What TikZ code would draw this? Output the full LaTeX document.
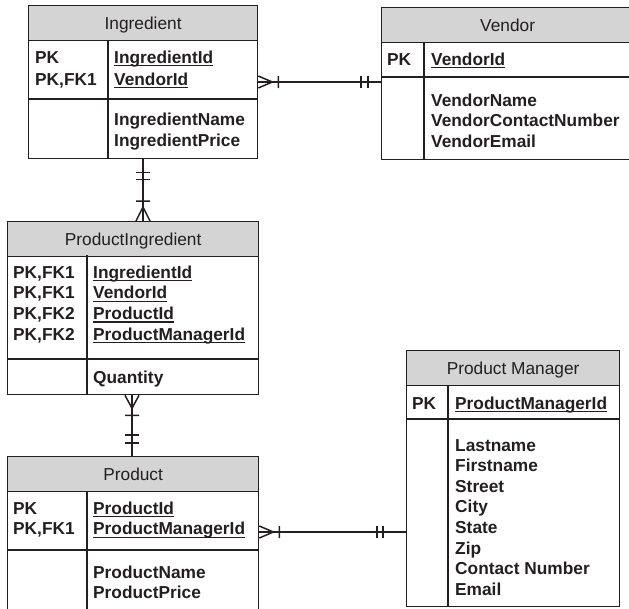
\documentclass[tikz,border=0pt]{standalone}
\usepackage{fontspec}
\setmainfont{Liberation Sans}
\definecolor{ink}{RGB}{35,31,32}
\definecolor{headfill}{RGB}{212,212,212}

% underlined key attribute with a fixed rule position
\newsavebox\keybox
\newcommand\keyname[1]{\sbox\keybox{#1}\rlap{\rule[-3.3pt]{\wd\keybox}{1.3pt}}\usebox\keybox}

\tikzset{
  tablebox/.style={draw=ink, line width=1.3pt, rectangle, inner sep=0pt, anchor=north west},
  headbox/.style={draw=ink, fill=headfill, line width=1.3pt, rectangle, inner sep=0pt,
    anchor=north west, minimum height=35pt, text height=12.4pt, text depth=0pt, text=ink,
    font=\fontsize{17.3}{20.7}\selectfont},
  fieldtext/.style={inner sep=0pt, anchor=base west, text=ink,
    font=\fontsize{17.3}{20.7}\selectfont\bfseries},
  divider/.style={draw=ink, line width=1.3pt},
  rel/.style={draw=ink, line width=1.5pt},
}

% one column of field lines: prefix, x, first baseline, line step, entries
\newcommand\fieldcol[5]{%
  \foreach \txt [count=\n] in {#5} {\node[fieldtext] (#1\n) at (#2,{#3+(\n-1)*#4}) {\txt};}}

\begin{document}
\begin{tikzpicture}[x=1pt, y=-1pt]
\useasboundingbox (0,0) rectangle (629,608);
\clip (0,0) rectangle (629,608);

% ---------- Ingredient ----------
\node[tablebox, minimum width=229pt, minimum height=153pt] (ing) at (28,5) {};
\node[headbox, minimum width=229pt] (ing-h) at (ing.north west) {Ingredient};
\draw[divider] (108,40) -- (108,158);
\draw[divider] (ing.west |- 0,99) -- (ing.east |- 0,99);
\fieldcol{ing-k}{35}{63}{22}{PK,{PK,FK1}}
\fieldcol{ing-f}{114}{63}{22}{{\keyname{IngredientId}},{\keyname{VendorId}}}
\fieldcol{ing-a}{114}{125}{21}{IngredientName,IngredientPrice}

% ---------- Vendor ----------
\node[tablebox, minimum width=252pt, minimum height=152pt] (ven) at (381,7) {};
\node[headbox, minimum width=252pt] (ven-h) at (ven.north west) {Vendor};
\draw[divider] (424,42) -- (424,159);
\draw[divider] (ven.west |- 0,77) -- (ven.east |- 0,77);
\fieldcol{ven-k}{387}{65}{21}{PK}
\fieldcol{ven-f}{431}{65}{21}{{\keyname{VendorId}}}
\fieldcol{ven-a}{431}{106}{20.9}{VendorName,VendorContactNumber,VendorEmail}

% ---------- ProductIngredient ----------
\node[tablebox, minimum width=251pt, minimum height=173pt] (pi) at (7,221) {};
\node[headbox, minimum width=251pt] (pi-h) at (pi.north west) {ProductIngredient};
\draw[divider] (87,255) -- (87,394);
\draw[divider] (pi.west |- 0,359) -- (pi.east |- 0,359);
\fieldcol{pi-k}{13}{278}{20.7}{{PK,FK1},{PK,FK1},{PK,FK2},{PK,FK2}}
\fieldcol{pi-f}{93}{278}{20.7}{{\keyname{IngredientId}},{\keyname{VendorId}},{\keyname{ProductId}},{\keyname{ProductManagerId}}}
\fieldcol{pi-a}{93}{383}{20.7}{Quantity}

% ---------- Product ----------
\node[tablebox, minimum width=251pt, minimum height=164pt] (prod) at (7,456) {};
\node[headbox, minimum width=251pt] (prod-h) at (prod.north west) {Product};
\draw[divider] (87,491) -- (87,620);
\draw[divider] (prod.west |- 0,550) -- (prod.east |- 0,550);
\fieldcol{prod-k}{13}{514}{20.5}{PK,{PK,FK1}}
\fieldcol{prod-f}{93}{514}{20.5}{{\keyname{ProductId}},{\keyname{ProductManagerId}}}
\fieldcol{prod-a}{93}{578}{20.5}{ProductName,ProductPrice}

% ---------- Product Manager ----------
\node[tablebox, minimum width=213pt, minimum height=256pt] (pm) at (406,350) {};
\node[headbox, minimum width=213pt] (pm-h) at (pm.north west) {Product Manager};
\draw[divider] (448,385) -- (448,606);
\draw[divider] (pm.west |- 0,419) -- (pm.east |- 0,419);
\fieldcol{pm-k}{412}{409}{20.6}{PK}
\fieldcol{pm-f}{455}{409}{20.6}{{\keyname{ProductManagerId}}}
\fieldcol{pm-a}{455}{451}{20.6}{Lastname,Firstname,Street,City,State,Zip,Contact Number,Email}

% ---------- relationships ----------
% Ingredient (many) -- Vendor (one)
\coordinate (iv) at (0,82);
\draw[rel] (ing.east |- iv) -- (ven.west |- iv);
\draw[rel, shift={(ing.east |- iv)}] (0,-6) -- (14,0) -- (0,6) (20,-6) -- (20,6);
\draw[rel, shift={(ven.west |- iv)}] (-20,-6) -- (-20,6) (-13,-6) -- (-13,6);

% Ingredient (one) -- ProductIngredient (many)
\coordinate (ip) at (143,0);
\draw[rel] (ing.south -| ip) -- (pi.north -| ip);
\draw[rel, shift={(ing.south -| ip)}] (-7,13) -- (7,13) (-7,20) -- (7,20);
\draw[rel, shift={(pi.north -| ip)}] (-7,0) -- (0,-14) -- (7,0) (-7,-20) -- (7,-20);

% ProductIngredient (many) -- Product (one)
\coordinate (pp) at (132,0);
\draw[rel] (pi.south -| pp) -- (prod.north -| pp);
\draw[rel, shift={(pi.south -| pp)}] (-7,0) -- (0,13) -- (7,0) (-7,20) -- (7,20);
\draw[rel, shift={(prod.north -| pp)}] (-7,-21) -- (7,-21) (-7,-13) -- (7,-13);

% Product (many) -- Product Manager (one)
\coordinate (pm-y) at (0,532);
\draw[rel] (prod.east |- pm-y) -- (pm.west |- pm-y);
\draw[rel, shift={(prod.east |- pm-y)}] (0,-6) -- (14,0) -- (0,6) (20,-6) -- (20,6);
\draw[rel, shift={(pm.west |- pm-y)}] (-29,-6) -- (-29,6) (-23,-6) -- (-23,6);
\end{tikzpicture}
\end{document}
